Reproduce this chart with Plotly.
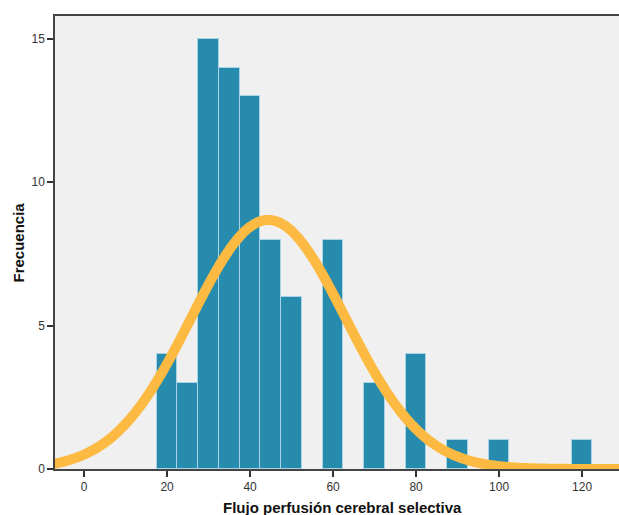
import numpy as np
import plotly.graph_objects as go

# Histogram bins (centres) and counts
bin_centers = [20, 25, 30, 35, 40, 45, 50, 60, 70, 80, 90, 100, 120]
counts = [4, 3, 15, 14, 13, 8, 6, 8, 3, 4, 1, 1, 1]
bin_width = 5

# Fitted normal curve parameters
curve_mean = 44.4
curve_sd = 18.6
n_total = sum(counts)

x_ticks = [0, 20, 40, 60, 80, 100, 120]
y_ticks = [0, 5, 10, 15]
x_title = "Flujo perfusión cerebral selectiva"
y_title = "Frecuencia"

xs = np.linspace(-8, 130, 400)
ys = n_total * bin_width / (curve_sd * np.sqrt(2 * np.pi)) * np.exp(-0.5 * ((xs - curve_mean) / curve_sd) ** 2)

W, H = 619, 515
ML, MR, MT, MB = 55, 0, 16, 46
PW, PH = W - ML - MR, H - MT - MB

fig = go.Figure()
fig.add_trace(go.Bar(
    x=bin_centers, y=counts, width=[bin_width] * len(counts),
    marker=dict(color="#268BAC", line=dict(color="#A9D3E6", width=1)),
    hoverinfo="skip",
))
fig.add_trace(go.Scatter(
    x=xs, y=ys, mode="lines",
    line=dict(color="#FDBA43", width=10, shape="spline"),
    hoverinfo="skip",
))

fig.update_layout(
    width=W, height=H,
    margin=dict(l=ML, r=MR, t=MT, b=MB, autoexpand=False),
    paper_bgcolor="white", plot_bgcolor="#F0F0F0",
    showlegend=False, bargap=0,
    font=dict(family="Liberation Sans, Arial, sans-serif", size=12, color="#333333"),
    annotations=[
        dict(text="<b>" + x_title + "</b>", xref="paper", yref="paper",
             x=(342.5 - ML) / PW, y=-(507 - (H - MB)) / PH,
             xanchor="center", yanchor="middle", showarrow=False,
             font=dict(size=15, color="#111111")),
        dict(text="<b>" + y_title + "</b>", xref="paper", yref="paper",
             x=-(ML - 18) / PW, y=0.5, textangle=-90,
             xanchor="center", yanchor="middle", showarrow=False,
             font=dict(size=15, color="#111111")),
    ],
)
fig.update_xaxes(
    range=[-7, 128.9], tickvals=x_ticks, ticks="outside", ticklen=6, tickwidth=1.5,
    tickcolor="#333333", showline=True, linecolor="#444444", linewidth=1.5, mirror=True,
    showgrid=False, zeroline=False, automargin=False,
)
fig.update_yaxes(
    range=[0, 15.8], tickvals=y_ticks, ticks="outside", ticklen=6, tickwidth=1.5,
    tickcolor="#333333", showline=True, linecolor="#444444", linewidth=1.5,
    showgrid=False, zeroline=False, automargin=False,
)

fig.write_html(
    "out.html",
    config={"displayModeBar": False},
    post_script="document.body.style.margin='0';document.body.style.overflow='hidden';",
)
